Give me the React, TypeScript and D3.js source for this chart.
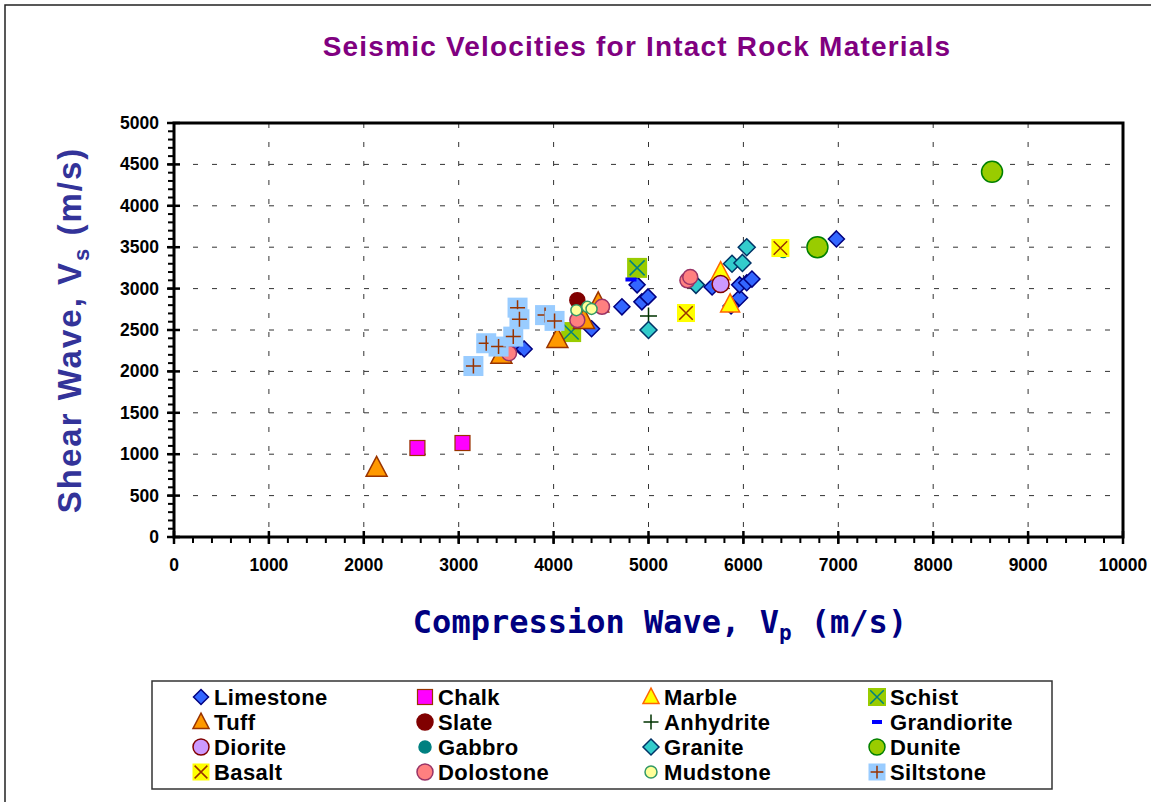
import React from "react";
import * as d3 from "d3";

const W = 1151;
const H = 802;

const xTicks = [0, 1000, 2000, 3000, 4000, 5000, 6000, 7000, 8000, 9000, 10000];
const yTicks = [0, 500, 1000, 1500, 2000, 2500, 3000, 3500, 4000, 4500, 5000];

const limestone: [number, number][] = [
  [3650, 2300], [3690, 2270], [4400, 2515], [4720, 2780], [4880, 3045], [4930, 2840],
  [4995, 2900], [5670, 3020], [5870, 2790], [5960, 2890], [5960, 3045], [6035, 3070],
  [6090, 3115], [6980, 3600],
];
const chalk: [number, number][] = [[2565, 1075], [3040, 1135]];
const marble: [number, number][] = [[5760, 3200], [5860, 2810]];
const schist: [number, number][] = [[4880, 3250], [4185, 2475]];
const tuff: [number, number][] = [[2135, 835], [3450, 2200], [4040, 2390], [4320, 2620], [4470, 2820]];
const slate: [number, number][] = [[4250, 2860]];
const anhydrite: [number, number][] = [[5000, 2670]];
const grandiorite: [number, number][] = [[4815, 3110]];
const diorite: [number, number][] = [[5760, 3055]];
const gabbro: [number, number][] = [[6420, 3430]];
const granite: [number, number][] = [[5000, 2500], [5500, 3045], [5880, 3300], [5990, 3310], [6035, 3500]];
const dunite: [number, number][] = [[6780, 3500], [8620, 4410]];
const basalt: [number, number][] = [[6390, 3490], [5395, 2705]];
const dolostone: [number, number][] = [[5410, 3100], [5440, 3140], [4510, 2780], [4250, 2620], [3530, 2220]];
const mudstone: [number, number][] = [[4240, 2740], [4355, 2780], [4400, 2755]];
const siltstone: [number, number][] = [
  [3155, 2065], [3290, 2340], [3420, 2300], [3575, 2420], [3620, 2770], [3640, 2630],
  [3910, 2680], [4010, 2610],
];

type Shape = "diamond" | "square" | "triangle" | "circle" | "plus" | "dash" | "xsquare" | "plussquare";
interface Series { name: string; data: [number, number][]; shape: Shape; fill: string; stroke: string; size: number; mark?: string; }

const series: Series[] = [
  { name: "Limestone", data: limestone, shape: "diamond", fill: "#3366FF", stroke: "#000080", size: 16 },
  { name: "Chalk", data: chalk, shape: "square", fill: "#FF00FF", stroke: "#993300", size: 15 },
  { name: "Marble", data: marble, shape: "triangle", fill: "#FFFF00", stroke: "#FF6600", size: 19 },
  { name: "Schist", data: schist, shape: "xsquare", fill: "#99CC00", stroke: "#99CC00", mark: "#008080", size: 20 },
  { name: "Tuff", data: tuff, shape: "triangle", fill: "#FF9900", stroke: "#993300", size: 21 },
  { name: "Slate", data: slate, shape: "circle", fill: "#800000", stroke: "#800000", size: 15 },
  { name: "Anhydrite", data: anhydrite, shape: "plus", fill: "none", stroke: "#003300", size: 17 },
  { name: "Grandiorite", data: grandiorite, shape: "dash", fill: "#0000FF", stroke: "#0000FF", size: 11 },
  { name: "Diorite", data: diorite, shape: "circle", fill: "#CC99FF", stroke: "#800000", size: 17 },
  { name: "Gabbro", data: gabbro, shape: "circle", fill: "#008080", stroke: "#008080", size: 9 },
  { name: "Granite", data: granite, shape: "diamond", fill: "#33CCCC", stroke: "#003366", size: 17 },
  { name: "Dunite", data: dunite, shape: "circle", fill: "#99CC00", stroke: "#008000", size: 21 },
  { name: "Basalt", data: basalt, shape: "xsquare", fill: "#FFFF00", stroke: "#FFFF00", mark: "#993300", size: 18 },
  { name: "Dolostone", data: dolostone, shape: "circle", fill: "#FF8080", stroke: "#993366", size: 15 },
  { name: "Mudstone", data: mudstone, shape: "circle", fill: "#FFFF99", stroke: "#339966", size: 11 },
  { name: "Siltstone", data: siltstone, shape: "plussquare", fill: "#99CCFF", stroke: "#99CCFF", mark: "#993300", size: 20 },
];

const legendSizes: Record<string, number> = {
  Limestone: 15, Chalk: 15, Marble: 16, Schist: 18, Tuff: 16, Slate: 16, Anhydrite: 15, Grandiorite: 10,
  Diorite: 16, Gabbro: 12, Granite: 16, Dunite: 16, Basalt: 17, Dolostone: 16, Mudstone: 12, Siltstone: 17,
};

function Marker({ s, x, y, size }: { s: Series; x: number; y: number; size: number }) {
  const h = size / 2;
  switch (s.shape) {
    case "diamond":
      return <path d={`M${x},${y - h}L${x + h},${y}L${x},${y + h}L${x - h},${y}Z`} fill={s.fill} stroke={s.stroke} strokeWidth={1.5} />;
    case "square":
      return <rect x={x - h} y={y - h} width={size} height={size} fill={s.fill} stroke={s.stroke} strokeWidth={1.2} />;
    case "triangle":
      return <path d={`M${x},${y - h * 1.1}L${x + h},${y + h * 0.8}L${x - h},${y + h * 0.8}Z`} fill={s.fill} stroke={s.stroke} strokeWidth={1.5} />;
    case "circle":
      return <circle cx={x} cy={y} r={h} fill={s.fill} stroke={s.stroke} strokeWidth={1.5} />;
    case "plus":
      return <path d={`M${x - h},${y}H${x + h}M${x},${y - h}V${y + h}`} stroke={s.stroke} strokeWidth={1.5} fill="none" />;
    case "dash":
      return <rect x={x - h} y={y - 2} width={size} height={4} fill={s.fill} />;
    case "xsquare": {
      const k = h * 0.75;
      return (
        <g>
          <rect x={x - h} y={y - h} width={size} height={size} fill={s.fill} />
          <path d={`M${x - k},${y - k}L${x + k},${y + k}M${x + k},${y - k}L${x - k},${y + k}`} stroke={s.mark} strokeWidth={1.5} />
        </g>
      );
    }
    case "plussquare": {
      const k = h * 0.75;
      return (
        <g>
          <rect x={x - h} y={y - h} width={size} height={size} fill={s.fill} />
          <path d={`M${x - k},${y}H${x + k}M${x},${y - k}V${y + k}`} stroke={s.mark} strokeWidth={1.5} />
        </g>
      );
    }
  }
  return null;
}

export default function App() {
  const x = d3.scaleLinear().domain([0, 10000]).range([174, 1123]);
  const y = d3.scaleLinear().domain([0, 5000]).range([537, 123]);
  const xMinor = d3.range(0, 10001, 200);
  const yMinor = d3.range(0, 5001, 100);
  const font = "'Liberation Sans', Arial, sans-serif";

  const legendCols = [201, 425, 651, 877];
  const legendRows = [697, 722, 747, 772];

  return (
    <svg width={W} height={H} style={{ position: "absolute", left: 0, top: 0, display: "block" }} fontFamily={font}>
      <rect x={0} y={0} width={W} height={H} fill="#fff" />
      <rect x={5} y={5} width={W + 20} height={H + 20} fill="none" stroke="#222" strokeWidth={1.5} />

      <text x={637} y={56} textAnchor="middle" fontSize={28} fontWeight="bold" fill="#800080" letterSpacing={1.2}>
        Seismic Velocities for Intact Rock Materials
      </text>

      {/* grid */}
      {xTicks.slice(1, -1).map((t) => (
        <line key={"gx" + t} x1={x(t)} x2={x(t)} y1={y(5000)} y2={y(0)} stroke="#333" strokeWidth={1} strokeDasharray="5,14" />
      ))}
      {yTicks.slice(1, -1).map((t) => (
        <line key={"gy" + t} x1={x(0)} x2={x(10000)} y1={y(t)} y2={y(t)} stroke="#333" strokeWidth={1} strokeDasharray="5,14" />
      ))}

      {/* minor ticks */}
      {xMinor.map((t) => (
        <line key={"mx" + t} x1={x(t)} x2={x(t)} y1={y(0)} y2={y(0) + 6} stroke="#000" strokeWidth={2} />
      ))}
      {yMinor.map((t) => (
        <line key={"my" + t} x1={x(0) - 6} x2={x(0)} y1={y(t)} y2={y(t)} stroke="#000" strokeWidth={2} />
      ))}
      {xTicks.map((t) => (
        <line key={"tx" + t} x1={x(t)} x2={x(t)} y1={y(0) - 6} y2={y(0) + 7} stroke="#000" strokeWidth={2.5} />
      ))}
      {yTicks.map((t) => (
        <line key={"ty" + t} x1={x(0) - 7} x2={x(0) + 6} y1={y(t)} y2={y(t)} stroke="#000" strokeWidth={2.5} />
      ))}

      {/* frame */}
      <rect x={x(0)} y={y(5000)} width={x(10000) - x(0)} height={y(0) - y(5000)} fill="none" stroke="#000" strokeWidth={3} />

      {/* tick labels */}
      {xTicks.map((t) => (
        <text key={"lx" + t} x={x(t)} y={571} textAnchor="middle" fontSize={17.5} fontWeight="bold" fill="#000">{t}</text>
      ))}
      {yTicks.map((t) => (
        <text key={"ly" + t} x={159} y={y(t) + 6} textAnchor="end" fontSize={17.5} fontWeight="bold" fill="#000">{t}</text>
      ))}

      {/* axis titles */}
      <text transform="translate(81,330) rotate(-90)" textAnchor="middle" fontSize={33} fontWeight="bold" fill="#333399" letterSpacing={2}>
        Shear Wave,  V<tspan fontSize={22} dy={8}>s</tspan><tspan dy={-8}> (m/s)</tspan>
      </text>
      <text x={660} y={633} textAnchor="middle" fontSize={32} fontWeight="bold" fill="#000080" fontFamily="'DejaVu Sans Mono', monospace">
        Compression Wave, V<tspan fontSize={21} dy={7}>p</tspan><tspan dy={-7}> (m/s)</tspan>
      </text>

      {/* data */}
      {series.map((s) => (
        <g key={s.name}>
          {s.data.map((d, i) => (
            <Marker key={i} s={s} x={x(d[0])} y={y(d[1])} size={s.size} />
          ))}
        </g>
      ))}

      {/* legend */}
      <rect x={152} y={681} width={900} height={108} fill="#fff" stroke="#333" strokeWidth={1.5} />
      {series.map((s, i) => {
        const cx = legendCols[i % 4];
        const cy = legendRows[Math.floor(i / 4)];
        return (
          <g key={"lg" + s.name}>
            <Marker s={s} x={cx} y={cy} size={legendSizes[s.name]} />
            <text x={cx + 13} y={cy + 8} fontSize={22} fontWeight="bold" fill="#000" letterSpacing={0.4}>{s.name}</text>
          </g>
        );
      })}
    </svg>
  );
}
